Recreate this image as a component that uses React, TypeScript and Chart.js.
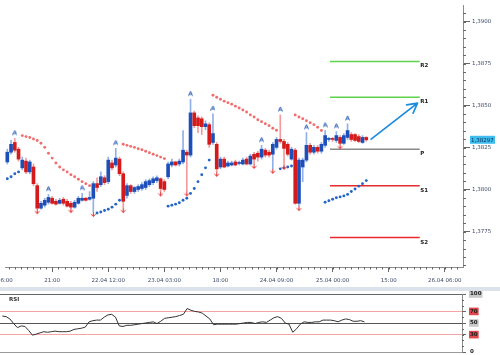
import React, { useEffect, useRef } from 'react';
import { Chart, registerables } from 'chart.js';

Chart.register(...registerables);

// ---------- data ----------
const hours = [3, 4, 5, 6, 7, 8, 9, 10, 11, 12, 13, 14, 15, 16, 17, 18, 19, 20, 21, 22, 23, 24, 25, 26, 27, 28, 29, 30, 31, 32, 33, 34, 35, 36, 37, 38, 39, 40, 41, 42, 43, 44, 45, 46, 47, 48, 49, 50, 51, 52, 53, 54, 55, 56, 57, 58, 59, 60, 61, 62, 63, 64, 65, 66, 67, 68, 69, 70, 71, 72, 73, 74, 75, 76, 77, 78, 79, 80, 81, 82, 83, 84, 85, 86, 87, 88, 89, 90, 91, 92, 93, 94, 95, 96, 97, 98, 99];

const open = [
  1.38165, 1.38223, 1.38281, 1.38241, 1.3813, 1.3817, 1.38106, 1.38135, 1.38024, 1.3789,
  1.37908, 1.37925, 1.37949, 1.37931, 1.37919, 1.37943, 1.37931, 1.37919, 1.37896, 1.37919,
  1.37937, 1.37949, 1.37943, 1.37949, 1.38036, 1.3803, 1.38071, 1.38048, 1.38159, 1.38147,
  1.38182, 1.38095, 1.37966, 1.38024, 1.37989, 1.38001, 1.38007, 1.38013, 1.3803, 1.38042,
  1.38054, 1.38065, 1.38048, 1.38077, 1.38147, 1.38165, 1.38153, 1.38165, 1.38223, 1.38206,
  1.38457, 1.38427, 1.38422, 1.38375, 1.38387, 1.38281, 1.3827, 1.38135, 1.38182, 1.38141,
  1.38147, 1.38165, 1.38156, 1.38153, 1.38182, 1.38153, 1.38211, 1.38217, 1.38194, 1.38235,
  1.38223, 1.38211, 1.38252, 1.38299, 1.38287, 1.3827, 1.38182, 1.38235, 1.37919, 1.38135,
  1.38176, 1.38264, 1.38223, 1.38252, 1.38229, 1.38264, 1.38299, 1.38305, 1.38293, 1.38311,
  1.38276, 1.38311, 1.38328, 1.38328, 1.38316, 1.38281, 1.38311
];
const high = [
  1.38241, 1.38293, 1.38305, 1.38252, 1.38194, 1.38188, 1.38176, 1.38153, 1.38036, 1.37931,
  1.37949, 1.37972, 1.3796, 1.37943, 1.37949, 1.37954, 1.37943, 1.37931, 1.37937, 1.3796,
  1.37978, 1.37954, 1.37989, 1.38048, 1.38071, 1.38106, 1.38083, 1.38194, 1.38176, 1.38246,
  1.38194, 1.38106, 1.38036, 1.3803, 1.38019, 1.3803, 1.38042, 1.3806, 1.38065, 1.38077,
  1.38083, 1.38071, 1.3806, 1.38165, 1.38182, 1.3817, 1.38182, 1.38352, 1.38235, 1.38538,
  1.38468, 1.38439, 1.38433, 1.3841, 1.38398, 1.38451, 1.38281, 1.38194, 1.38194, 1.3817,
  1.3817, 1.38176, 1.3817, 1.38188, 1.38194, 1.38211, 1.38223, 1.38229, 1.38264, 1.38246,
  1.38235, 1.38281, 1.38311, 1.38445, 1.38299, 1.38281, 1.38252, 1.38246, 1.38188, 1.38188,
  1.3834, 1.38276, 1.38264, 1.38264, 1.38281, 1.38352, 1.38311, 1.38311, 1.38346, 1.38322,
  1.38334, 1.38392, 1.3834, 1.38334, 1.38328, 1.38322, 1.38316
];
const low = [
  1.38153, 1.38211, 1.38223, 1.3817, 1.38118, 1.38095, 1.38095, 1.38024, 1.37884, 1.37884,
  1.37896, 1.37914, 1.37914, 1.37908, 1.37914, 1.37908, 1.37896, 1.3789, 1.3789, 1.37914,
  1.37931, 1.37931, 1.37937, 1.37867, 1.37989, 1.38019, 1.3803, 1.38036, 1.38118, 1.38135,
  1.38083, 1.3789, 1.37949, 1.37978, 1.37978, 1.37989, 1.37995, 1.38001, 1.38019, 1.3803,
  1.38042, 1.37989, 1.37989, 1.38065, 1.38135, 1.38141, 1.38141, 1.38153, 1.37989, 1.38194,
  1.38369, 1.3834, 1.38328, 1.38357, 1.38252, 1.3827, 1.38106, 1.38124, 1.3813, 1.38135,
  1.38141, 1.38141, 1.38147, 1.38147, 1.38147, 1.38147, 1.38153, 1.3817, 1.38182, 1.38194,
  1.38194, 1.38124, 1.38241, 1.38276, 1.38147, 1.382, 1.38176, 1.37914, 1.37902, 1.38048,
  1.38165, 1.38211, 1.38211, 1.38217, 1.38217, 1.38252, 1.38287, 1.38287, 1.38281, 1.3827,
  1.3827, 1.38299, 1.38287, 1.38287, 1.38281, 1.38276, 1.38287
];
const close = [
  1.38223, 1.3827, 1.38235, 1.38182, 1.38176, 1.38106, 1.38165, 1.38036, 1.3789, 1.37919,
  1.37937, 1.37954, 1.37919, 1.37914, 1.37937, 1.37919, 1.37902, 1.37896, 1.37925, 1.37949,
  1.37949, 1.37937, 1.37954, 1.38036, 1.38013, 1.38077, 1.38042, 1.38176, 1.3813, 1.38188,
  1.38095, 1.37931, 1.38024, 1.37989, 1.38013, 1.38019, 1.3803, 1.38048, 1.38054, 1.38065,
  1.38071, 1.38007, 1.38001, 1.38153, 1.38165, 1.38147, 1.3817, 1.38235, 1.38206, 1.38457,
  1.38381, 1.38381, 1.38375, 1.38392, 1.3827, 1.38334, 1.38124, 1.38182, 1.38135, 1.38159,
  1.38159, 1.38147, 1.38159, 1.38176, 1.38153, 1.382, 1.38182, 1.38194, 1.38241, 1.38206,
  1.38206, 1.3827, 1.38299, 1.38287, 1.38246, 1.38211, 1.38241, 1.37919, 1.38176, 1.38176,
  1.38264, 1.38223, 1.38252, 1.38229, 1.3827, 1.38322, 1.38305, 1.38299, 1.38322, 1.38276,
  1.38322, 1.38352, 1.38299, 1.38293, 1.38287, 1.38311, 1.38297
];
const sar = [
  1.38065, 1.38077, 1.38095, 1.38106, 1.38322, 1.38316, 1.38311, 1.38302, 1.38293, 1.38276,
  1.38252, 1.38217, 1.38188, 1.38159, 1.38135, 1.38118, 1.38106, 1.38089, 1.38077, 1.38062,
  1.38048, 1.38036, 1.38024, 1.38013, 1.37861, 1.37867, 1.37876, 1.37884, 1.37896, 1.37914,
  1.37937, 1.3827, 1.38264, 1.38258, 1.38252, 1.38244, 1.38238, 1.38229, 1.3822, 1.38211,
  1.38203, 1.38194, 1.38185, 1.37902, 1.37908, 1.37914, 1.37922, 1.37937, 1.37949, 1.37978,
  1.38007, 1.38048, 1.38089, 1.3813, 1.38176, 1.38562, 1.3855, 1.38538, 1.38527, 1.38518,
  1.38509, 1.38497, 1.38486, 1.38474, 1.38462, 1.38445, 1.38433, 1.38416, 1.38404, 1.38392,
  1.38381, 1.38366, 1.38354, 1.38124, 1.3813, 1.38135, 1.38141, 1.38445, 1.38433, 1.38422,
  1.3841, 1.38398, 1.38387, 1.38372, 1.38352, 1.37925, 1.37934, 1.37943, 1.37952, 1.37957,
  1.37963, 1.37972, 1.37989, 1.38004, 1.38021, 1.38036, 1.38054
];
const rsi = [
  62, 61, 57, 49, 42, 45, 44, 37, 29, 31,
  33, 35, 34, 35, 36, 35, 35, 35, 36, 39,
  40, 41, 43, 52, 54, 55, 55, 60, 64, 65,
  60, 45, 44, 46, 46, 47, 48, 49, 50, 51,
  52, 49, 53, 58, 59, 60, 61, 63, 65, 75,
  72, 70, 69, 67, 62, 57, 47, 48, 48, 48,
  48, 48, 48, 49, 50, 51, 51, 49, 51, 52,
  51, 55, 59, 61, 58, 50, 48, 34, 40, 48,
  52, 51, 51, 52, 52, 55, 55, 55, 54, 52,
  55, 57, 56, 53, 53, 54, 52
];

const fractalUpHours = [5, 14, 23, 32, 52, 58, 71, 76, 83, 88, 91, 94];
const fractalDownHours = [11, 20, 26, 34, 44, 51, 59, 69, 74, 77, 81, 92];

const pivotNames = ['R2', 'R1', 'P', 'S1', 'S2'];
const pivotLevels = [1.38763, 1.3855, 1.38241, 1.38024, 1.37715];
const pivotStartHour = 89.3;
const pivotEndHour = 113.3;

const forecastFrom = [100.3, 1.38301];
const forecastTo = [112.7, 1.38515];

const xTickHours = [0, 15, 30, 45, 60, 75, 90, 105, 120];
const xTickLabels = ['21.04 06:00', '21:00', '22.04 12:00', '23.04 03:00', '18:00', '24.04 09:00', '25.04 00:00', '15:00', '26.04 06:00'];
const priceTicks = [1.3775, 1.38, 1.3825, 1.385, 1.3875, 1.39];
const rsiTicks = [0, 30, 50, 70, 100];

const X_MIN = 2.38;
const X_MAX = 124.87;
const Y_MIN = 1.3754;
const Y_MAX = 1.39099;

// ---------- styles ----------
const FONT = "'DejaVu Sans', sans-serif";
const COL = {
  blueBody: '#1d4fb8',
  redBody: '#d41a1a',
  blueWick: '#8fb1e8',
  redWick: '#f29b9b',
  sarRed: '#f26e6e',
  sarBlue: '#2466c6',
  fracUp: '#2a5cb8',
  fracDown: '#e33a3d',
  axis: '#8c8c8c',
  tick: '#666666',
  label: '#3c4a68',
};
const pivotColors: Record<string, string> = { R2: '#5cd44c', R1: '#5cd44c', P: '#8a8a8a', S1: '#e52b2b', S2: '#e52b2b' };
const rsiLineColors: Record<number, string> = { 100: '#666666', 70: '#f3a5a5', 50: '#555555', 30: '#f3a5a5', 0: '#9a9a9a' };
const rsiBoxColors: Record<number, string> = { 100: '#c9c9c9', 70: '#e3474b', 50: '#c9c9c9', 30: '#e3474b', 0: 'rgba(0,0,0,0)' };

function makeUpMarker(color: string) {
  const c = document.createElement('canvas');
  c.width = 5; c.height = 18;
  const g = c.getContext('2d')!;
  g.strokeStyle = color; g.lineWidth = 1;
  g.beginPath();
  g.moveTo(0.5, 5.5); g.lineTo(2.5, 1); g.lineTo(4.5, 5.5);
  g.moveTo(1.3, 4); g.lineTo(3.7, 4);
  g.stroke();
  return c;
}
function makeDownMarker(color: string) {
  const c = document.createElement('canvas');
  c.width = 7; c.height = 20;
  const g = c.getContext('2d')!;
  g.strokeStyle = color; g.lineWidth = 1;
  g.beginPath();
  g.moveTo(3.5, 10); g.lineTo(3.5, 14.5);
  g.moveTo(1.2, 11.8); g.lineTo(3.5, 14.5); g.lineTo(5.8, 11.8);
  g.stroke();
  return c;
}

const mainDecor = {
  id: 'mainDecor',
  afterDraw(chart: any) {
    const { ctx, chartArea: a } = chart;
    const xs = chart.scales.x;
    const ys = chart.scales.y;
    ctx.save();
    // minor y ticks
    ctx.strokeStyle = COL.tick; ctx.lineWidth = 1;
    ctx.beginPath();
    for (let k = Math.ceil(Y_MIN * 2000); k <= Math.floor(Y_MAX * 2000); k++) {
      const py = Math.round(ys.getPixelForValue(k / 2000)) + 0.5;
      ctx.moveTo(a.right, py); ctx.lineTo(a.right + 3, py);
    }
    // minor x ticks
    for (let k = 0; k <= 80; k++) {
      const px = Math.round(xs.getPixelForValue((k * 15) / 9)) + 0.5;
      if (px < a.left || px > a.right) continue;
      ctx.moveTo(px, a.bottom); ctx.lineTo(px, a.bottom + 2.5);
    }
    ctx.stroke();

    // pivot labels
    ctx.fillStyle = '#222';
    ctx.font = `bold 5.5px ${FONT}`;
    ctx.textAlign = 'left'; ctx.textBaseline = 'middle';
    const pxEnd = xs.getPixelForValue(pivotEndHour);
    pivotNames.forEach((n, i) => {
      ctx.fillText(n, pxEnd + 0.5, ys.getPixelForValue(pivotLevels[i]) + 4.5);
    });

    // forecast arrow
    const x0 = xs.getPixelForValue(forecastFrom[0]);
    const y0 = ys.getPixelForValue(forecastFrom[1]);
    const x1 = xs.getPixelForValue(forecastTo[0]);
    const y1 = ys.getPixelForValue(forecastTo[1]);
    ctx.strokeStyle = '#1b8be0'; ctx.lineWidth = 1.7; ctx.lineCap = 'round';
    ctx.beginPath();
    ctx.moveTo(x0, y0); ctx.lineTo(x1, y1);
    const ang = Math.atan2(y1 - y0, x1 - x0);
    [-0.5, 0.5].forEach((d) => {
      ctx.moveTo(x1, y1);
      ctx.lineTo(x1 - 11 * Math.cos(ang + d), y1 - 11 * Math.sin(ang + d));
    });
    ctx.stroke();

    // current price label
    const last = close[close.length - 1];
    const py = ys.getPixelForValue(last);
    ctx.fillStyle = '#3fbdee';
    ctx.fillRect(a.right + 7, py - 4, 25, 8);
    ctx.fillStyle = '#0b2a55';
    ctx.font = `5.5px ${FONT}`;
    ctx.textAlign = 'left'; ctx.textBaseline = 'middle';
    ctx.fillText(last.toFixed(5).replace('.', ','), a.right + 8, py + 0.5);
    ctx.restore();
  },
};

const rsiDecor = {
  id: 'rsiDecor',
  afterDraw(chart: any) {
    const { ctx, chartArea: a } = chart;
    const ys = chart.scales.y;
    ctx.save();
    ctx.strokeStyle = COL.tick; ctx.lineWidth = 1;
    ctx.beginPath();
    for (let v = 10; v < 100; v += 10) {
      const py = Math.round(ys.getPixelForValue(v)) + 0.5;
      ctx.moveTo(a.right, py); ctx.lineTo(a.right + 2, py);
    }
    ctx.stroke();
    ctx.fillStyle = '#333';
    ctx.font = `bold 5.5px ${FONT}`;
    ctx.textAlign = 'left'; ctx.textBaseline = 'middle';
    ctx.fillText('RSI', 9, 8.5);
    ctx.restore();
  },
};

export default function App() {
  const mainRef = useRef<HTMLCanvasElement>(null);
  const rsiRef = useRef<HTMLCanvasElement>(null);

  useEffect(() => {
    const upImg = makeUpMarker(COL.fracUp);
    const downImg = makeDownMarker(COL.fracDown);
    const isUp = close.map((c, i) => c >= open[i]);
    const sarColors = sar.map((s, i) => (s > (open[i] + close[i]) / 2 ? COL.sarRed : COL.sarBlue));

    const datasets: any[] = [
      {
        type: 'bar',
        data: hours.map((h, i) => ({ x: h, y: [open[i], close[i]] })),
        backgroundColor: isUp.map((u) => (u ? COL.blueBody : COL.redBody)),
        barThickness: 3,
        minBarLength: 1,
        grouped: false,
        order: 1,
      },
      {
        type: 'bar',
        data: hours.map((h, i) => ({ x: h, y: [low[i], high[i]] })),
        backgroundColor: isUp.map((u) => (u ? COL.blueWick : COL.redWick)),
        barThickness: 1,
        minBarLength: 1,
        grouped: false,
        order: 2,
      },
      {
        type: 'scatter',
        data: hours.map((h, i) => ({ x: h, y: sar[i] })),
        pointRadius: 1.45,
        pointBorderWidth: 0,
        pointBackgroundColor: sarColors,
        order: 3,
      },
      {
        type: 'scatter',
        data: fractalUpHours.map((h) => ({ x: h, y: high[hours.indexOf(h)] })),
        pointStyle: upImg,
        pointRadius: 3,
        order: 0,
      },
      {
        type: 'scatter',
        data: fractalDownHours.map((h) => ({ x: h, y: low[hours.indexOf(h)] })),
        pointStyle: downImg,
        pointRadius: 3,
        order: 0,
      },
      ...pivotNames.map((n, i) => ({
        type: 'line',
        data: [
          { x: pivotStartHour, y: pivotLevels[i] },
          { x: pivotEndHour, y: pivotLevels[i] },
        ],
        borderColor: pivotColors[n],
        borderWidth: 1.5,
        pointRadius: 0,
        order: 5,
      })),
    ];

    const tickFont = { family: FONT, size: 5.5 };

    const main = new Chart(mainRef.current!, {
      type: 'bar',
      data: { datasets },
      options: {
        animation: false,
        responsive: false,
        events: [],
        layout: { padding: 0 },
        plugins: { legend: { display: false }, tooltip: { enabled: false } },
        scales: {
          x: {
            type: 'linear',
            min: X_MIN,
            max: X_MAX,
            offset: false,
            afterBuildTicks: (s: any) => { s.ticks = xTickHours.map((v) => ({ value: v })); },
            afterFit: (s: any) => { s.height = 20; s.paddingLeft = 0; s.paddingRight = 0; },
            ticks: {
              autoSkip: false, maxRotation: 0, minRotation: 0, padding: 5,
              color: COL.label, font: tickFont,
              callback: (_v: any, i: number) => xTickLabels[i],
            },
            grid: { drawOnChartArea: false, drawTicks: true, tickLength: 5, tickColor: COL.tick, offset: false },
            border: { display: true, color: COL.axis, width: 1 },
          },
          y: {
            type: 'linear',
            position: 'right',
            min: Y_MIN,
            max: Y_MAX,
            afterBuildTicks: (s: any) => { s.ticks = priceTicks.map((v) => ({ value: v })); },
            afterFit: (s: any) => { s.width = 37; s.paddingTop = 0; s.paddingBottom = 0; },
            ticks: {
              padding: 2, color: COL.label, font: tickFont,
              callback: (v: any) => Number(v).toFixed(4).replace('.', ','),
            },
            grid: { drawOnChartArea: false, drawTicks: true, tickLength: 7, tickColor: COL.tick },
            border: { display: true, color: COL.axis, width: 1 },
          },
        },
      } as any,
      plugins: [mainDecor],
    });

    const rsiChart = new Chart(rsiRef.current!, {
      type: 'line',
      data: {
        datasets: [
          {
            data: hours.map((h, i) => ({ x: h, y: rsi[i] })),
            borderColor: '#333333',
            borderWidth: 1,
            pointRadius: 0,
            tension: 0,
          },
        ],
      },
      options: {
        animation: false,
        responsive: false,
        events: [],
        layout: { padding: { top: 3, bottom: 3, left: 0, right: 0 } },
        plugins: { legend: { display: false }, tooltip: { enabled: false } },
        scales: {
          x: { type: 'linear', min: X_MIN, max: X_MAX, display: false },
          y: {
            type: 'linear',
            position: 'right',
            min: 0,
            max: 100,
            afterBuildTicks: (s: any) => { s.ticks = rsiTicks.map((v) => ({ value: v })); },
            afterFit: (s: any) => { s.width = 38; s.paddingTop = 0; s.paddingBottom = 0; },
            ticks: {
              padding: 4,
              color: '#222',
              font: { family: FONT, size: 5.5, weight: 'bold' },
              showLabelBackdrop: (c: any) => c.tick && c.tick.value !== 0,
              backdropColor: (c: any) => (c.tick ? rsiBoxColors[c.tick.value] : 'rgba(0,0,0,0)'),
              backdropPadding: { top: 0.5, bottom: 0.5, left: 1, right: 1 },
              callback: (v: any) => String(v),
            },
            grid: {
              drawOnChartArea: true,
              drawTicks: true,
              tickLength: 4,
              tickColor: COL.tick,
              color: (c: any) => (c.tick ? rsiLineColors[c.tick.value] : '#999'),
              lineWidth: 1,
            },
            border: { display: true, color: COL.axis, width: 1 },
          },
        },
      } as any,
      plugins: [rsiDecor],
    });

    return () => {
      main.destroy();
      rsiChart.destroy();
    };
  }, []);

  return (
    <div style={{ position: 'absolute', left: 0, top: 0, width: 500, height: 355, background: '#ffffff', overflow: 'hidden' }}>
      <canvas ref={mainRef} width={500} height={287} style={{ position: 'absolute', left: 0, top: 0 }} />
      <div style={{ position: 'absolute', left: 0, top: 287, width: 500, height: 4, background: '#dbe2ea' }} />
      <canvas ref={rsiRef} width={500} height={64} style={{ position: 'absolute', left: 0, top: 291 }} />
    </div>
  );
}
